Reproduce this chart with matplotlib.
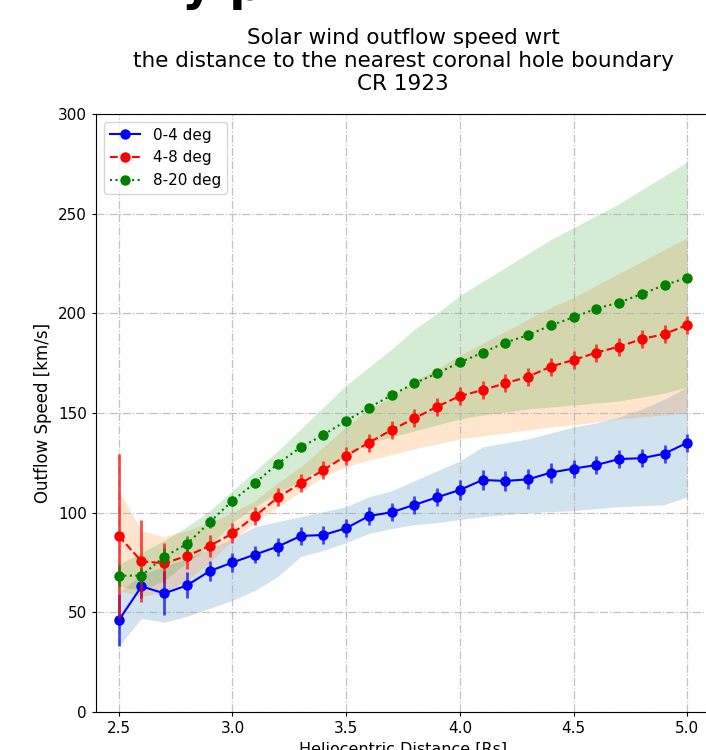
import numpy as np
import matplotlib
matplotlib.use("Agg")
import matplotlib.pyplot as plt

# heliocentric distance [Rs]
dist = [2.5, 2.6, 2.7, 2.8, 2.9, 3.0, 3.1, 3.2, 3.3, 3.4, 3.5, 3.6, 3.7,
        3.8, 3.9, 4.0, 4.1, 4.2, 4.3, 4.4, 4.5, 4.6, 4.7, 4.8, 4.9, 5.0]

# 0-4 deg
v_04 = [46, 63, 59.5, 63.5, 70.7, 75, 79, 83, 88.3, 88.8, 92.2, 98.3, 100.2,
        103.9, 107.7, 111.4, 116.4, 115.9, 116.7, 120.1, 122.1, 123.9, 126.9, 127.3, 129.6, 135.1]
err_04 = [13, 6, 11, 6.5, 5, 5, 4.5, 4.5, 4.5, 4.5, 4.5, 4.5, 4.5,
          4.5, 4.5, 5, 5, 5, 5, 5, 4.5, 4.5, 4.5, 4.5, 4.5, 4.5]
lo_04 = [33, 47, 45, 48, 52, 56, 61, 68, 78, 81, 85, 89.6, 92,
         94, 95, 96.5, 98, 99, 100, 100.5, 101, 102, 103, 103.5, 104, 108]
hi_04 = [60, 69, 73, 77, 82, 87, 93, 95.5, 98, 100.5, 103, 108, 111,
         116, 121, 126, 133, 135, 137, 140, 143, 145, 148, 152, 157, 163]

# 4-8 deg
v_48 = [88.3, 75.6, 74.6, 78.3, 83.3, 89.6, 98.3, 107.7, 114.7, 121.4, 128.6, 135.1, 141.5,
        147.3, 153.2, 158.5, 161.5, 164.9, 168.2, 173.3, 176.6, 180.3, 183.3, 187.1, 189.6, 194.2]
err_48 = [41, 20.5, 10, 6.5, 5.5, 5, 4.5, 4.5, 4.5, 4.5, 4.5, 4.5, 4.5,
          4.5, 4.5, 4.5, 4.5, 4.5, 4.5, 4.5, 4.5, 4.5, 4.5, 4.5, 4.5, 4.5]
lo_48 = [61, 58, 60, 66, 75, 86, 95, 103, 110.5, 118, 123, 126.4, 129,
         132, 134.5, 137, 138.5, 140, 141.5, 143, 144, 145.5, 147, 148, 149, 150]
hi_48 = [111, 91, 88, 91, 95, 100, 106, 115, 123, 133, 143, 152, 158,
         166, 172, 179, 185, 191, 197, 203, 208, 214, 220, 226, 232, 238]

# 8-20 deg
v_820 = [68.4, 68.4, 77.9, 84.3, 95.2, 106, 115, 124.6, 132.8, 139, 146.1, 152.7, 158.9,
         164.9, 169.9, 175.4, 180.3, 185.3, 189.1, 194, 198, 202.4, 205.4, 209.7, 214.2, 217.9]
err_820 = [5.4, 4, 4.5, 4, 3, 2.5, 2, 2, 2, 1.5, 1.5, 1.5, 1.5,
           1.5, 1.5, 1.5, 1.5, 1.5, 1.5, 1.5, 1.5, 1.5, 1.5, 1.5, 1.5, 1.5]
lo_820 = [63, 61, 66, 75, 83, 95, 103, 110, 116, 123, 128, 135, 138,
          141, 144, 147, 149, 150.5, 152, 153, 154, 155, 156, 158, 160, 163]
hi_820 = [74, 80, 86, 93, 101, 111, 121, 131, 142, 153, 164, 173, 182,
          192, 200, 209, 216, 223, 230, 237, 243, 249, 255, 262, 269, 276]

fig = plt.figure(figsize=(7.06, 7.5), dpi=100)
ax = fig.add_axes([0.136, 0.0507, 0.8697, 0.7973])

series = [
    (v_04, err_04, lo_04, hi_04, 'b', '-', 'C0', '0-4 deg'),
    (v_48, err_48, lo_48, hi_48, 'r', '--', 'C1', '4-8 deg'),
    (v_820, err_820, lo_820, hi_820, 'g', ':', 'C2', '8-20 deg'),
]

for v, e, lo, hi, col, ls, fcol, lab in series:
    ax.fill_between(dist, lo, hi, color=fcol, alpha=0.2, linewidth=0)
    ax.errorbar(dist, v, yerr=e, fmt='none', ecolor=col, elinewidth=2, capsize=0, alpha=0.7)
    ax.plot(dist, v, color=col, linestyle=ls, marker='o', markersize=6.5,
            linewidth=1.5, label=lab)

ax.set_xlim(2.4, 5.1)
ax.set_ylim(0, 300)
ax.set_xticks([2.5, 3.0, 3.5, 4.0, 4.5, 5.0])
ax.set_xticklabels(['2.5', '3.0', '3.5', '4.0', '4.5', '5.0'])
ax.set_yticks([0, 50, 100, 150, 200, 250, 300])
ax.grid(True, linestyle='-.', color='0.7', linewidth=0.9, alpha=0.8)
ax.tick_params(labelsize=11, length=3)

ax.set_xlabel('Heliocentric Distance [Rs]', fontsize=11.5)
ax.set_ylabel('Outflow Speed [km/s]', fontsize=12)
ax.set_title('Solar wind outflow speed wrt\nthe distance to the nearest coronal hole boundary\nCR 1923',
             fontsize=15.5, pad=17, linespacing=1.2)
ax.legend(loc='upper left', fontsize=11)

# fragment of a larger heading cut off at the top of the picture
fig.text(182 / 706, 1.0, 'y p', fontsize=34, fontweight='bold', va='baseline', ha='left')

fig.savefig('out.png', dpi=100)
